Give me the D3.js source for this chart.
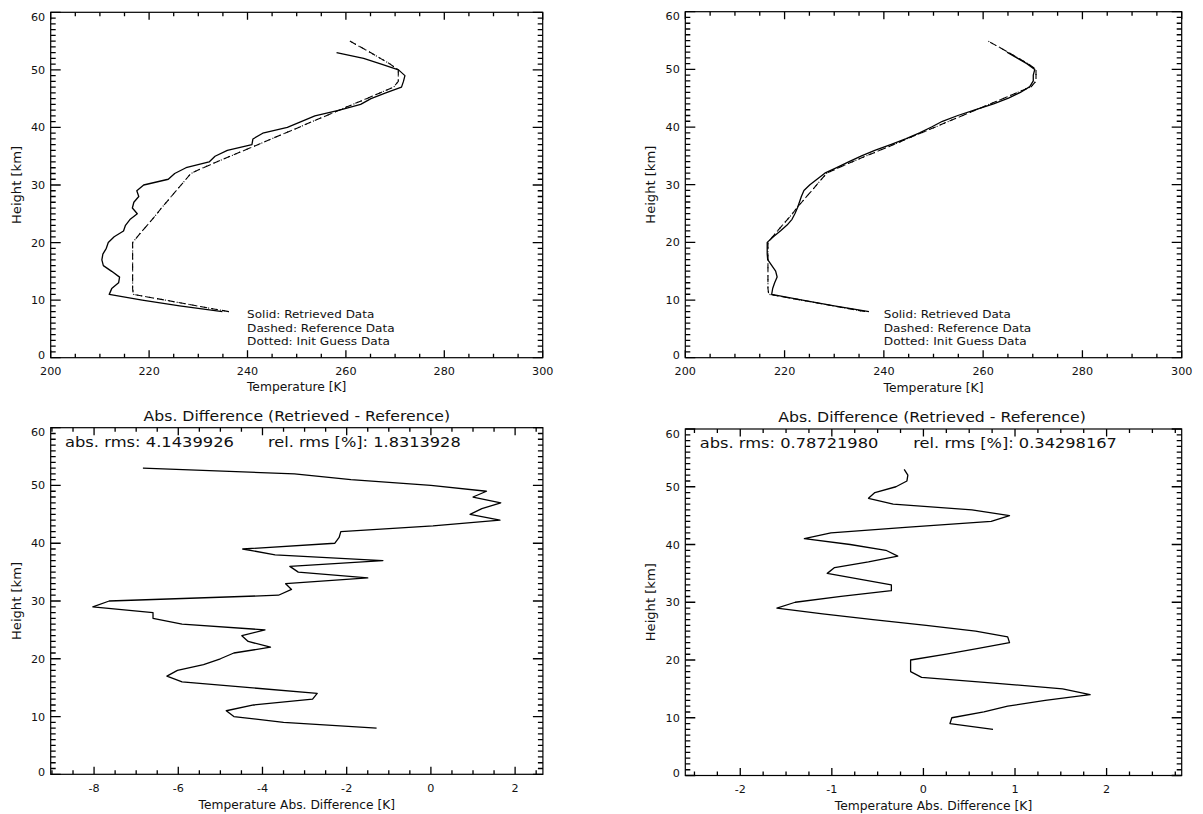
<!DOCTYPE html>
<html><head><meta charset="utf-8">
<script src="https://cdn.jsdelivr.net/npm/d3@7"></script>
<style>
body{margin:0;background:#fff}
svg{display:block}
text{font-family:"DejaVu Sans",sans-serif;fill:#111}
</style>
</head><body>
<svg id="c" width="1203" height="814"></svg>
<script>
// ---------------- DATA ----------------
const heightsRetrieved = [8,9,10,11,12,13,14,15,16,17,18,19,20,21,22,23,24,25,26,27,28,29,30,31,32,33,34,35,36,37,38,39,40,41,42,43,44,45,46,47,48,49,50,51,52,53];
const heightsReference = [8,9,10,11,12,13,14,15,16,17,18,19,20,21,22,23,24,25,26,27,28,29,30,31,32,33,34,35,36,37,38,39,40,41,42,43,44,45,46,47,48,49,50,51,52,53,54,55];

const referenceTempLeft = [236.2,229.7,223.3,216.8,216.65,216.65,216.65,216.65,216.65,216.65,216.65,216.65,216.65,217.6,218.6,219.6,220.6,221.6,222.5,223.5,224.5,225.5,226.5,227.5,228.5,231.0,233.7,236.5,239.3,242.1,244.8,247.6,250.4,253.1,255.9,258.6,261.4,264.2,266.9,269.7,270.65,270.65,270.65,269.0,267.0,265.0,262.9,260.8];
const initGuessTempLeft = [236.2,229.7,223.3,216.8,216.65,216.65,216.65,216.65,216.65,216.65,216.65,216.65,216.65,217.6,218.6,219.6,220.6,221.6,222.5,223.5,224.5,225.5,226.5,227.5,228.5,231.0,233.7,236.5,239.3,242.1,244.8,247.6,250.4,253.1,255.9,258.6,261.4,264.2,266.9,269.7,270.65,270.65,270.65,269.0,267.0,265.0,262.9,260.8];
const retrievedTempLeft = [234.9,226.2,218.6,211.9,212.4,213.8,214.0,212.4,210.7,210.4,210.6,211.3,211.7,212.9,214.8,215.2,216.1,217.6,216.6,216.9,217.9,217.5,218.9,223.9,225.2,227.5,232.2,233.4,235.9,240.9,241.1,243.1,248.1,250.9,253.7,258.7,263.0,265.1,268.1,271.3,271.7,272.0,270.7,267.2,263.6,258.1];
const absDiffLeft = [-1.29,-3.5,-4.68,-4.86,-4.21,-2.81,-2.70,-4.3,-5.91,-6.27,-6.02,-5.40,-5.0,-4.68,-3.81,-4.34,-4.49,-3.94,-5.91,-6.60,-6.60,-8.03,-7.64,-3.62,-3.31,-3.45,-1.50,-3.15,-3.35,-1.14,-3.70,-4.47,-2.28,-2.18,-2.14,0.05,1.64,0.93,1.21,1.66,1.0,1.32,0.0,-1.9,-3.24,-6.84];

const referenceTempRight = [236.2,229.7,223.3,216.8,216.65,216.65,216.65,216.65,216.65,216.65,216.65,216.65,216.65,217.6,218.6,219.6,220.6,221.6,222.5,223.5,224.5,225.5,226.5,227.5,228.5,231.0,233.7,236.5,239.3,242.1,244.8,247.6,250.4,253.1,255.9,258.6,261.4,264.2,266.9,269.7,270.65,270.65,270.65,269.0,267.0,265.0,262.9,260.8];
const initGuessTempRight = [236.2,229.7,223.3,216.8,216.65,216.65,216.65,216.65,216.65,216.65,216.65,216.65,216.65,217.6,218.6,219.6,220.6,221.6,222.5,223.5,224.5,225.5,226.5,227.5,228.5,231.0,233.7,236.5,239.3,242.1,244.8,247.6,250.4,253.1,255.9,258.6,261.4,264.2,266.9,269.7,270.65,270.65,270.65,269.0,267.0,265.0,262.9,260.8];
const retrievedTempRight = [237.0,230.0,223.6,217.4,217.6,218.0,218.5,218.2,217.4,216.6,216.5,216.5,216.5,217.8,219.2,220.5,221.5,222.1,222.6,223.0,223.4,223.9,225.1,226.6,228.1,230.6,233.0,235.5,238.3,241.5,244.5,247.2,249.6,251.8,254.9,258.5,262.1,265.1,267.5,269.4,270.1,270.1,270.4,268.8,266.8,264.8];
const absDiffRight = [0.76,0.29,0.31,0.66,0.92,1.33,1.82,1.52,0.77,-0.02,-0.14,-0.14,-0.14,0.25,0.6,0.94,0.92,0.57,0.03,-0.55,-1.1,-1.60,-1.40,-0.9,-0.35,-0.35,-0.7,-1.05,-0.97,-0.6,-0.28,-0.41,-0.8,-1.30,-1.01,-0.16,0.74,0.94,0.53,-0.33,-0.60,-0.53,-0.30,-0.18,-0.17,-0.21];

const heightRange = [0, 60];
const heightTicks = [0,10,20,30,40,50,60];
const tempRange = [200, 300];
const tempTicks = [200,220,240,260,280,300];
const diffRangeLeft = [-9.03, 2.66];
const diffTicksLeft = [-8,-6,-4,-2,0,2];
const diffRangeRight = [-2.60, 2.82];
const diffTicksRight = [-2,-1,0,1,2];

const legendLines = ["Solid: Retrieved Data","Dashed: Reference Data","Dotted: Init Guess Data"];
const diffTitle = "Abs. Difference (Retrieved - Reference)";
const rmsLeft = ["abs. rms: 4.1439926","rel. rms [%]: 1.8313928"];
const rmsRight = ["abs. rms: 0.78721980","rel. rms [%]: 0.34298167"];

// ---------------- DRAWING ----------------
const svg = d3.select("#c");

function minorValues(domain, step, majors){
  const out = [];
  const start = Math.ceil((domain[0]-1e-9)/step);
  const end = Math.floor((domain[1]+1e-9)/step);
  for (let i=start;i<=end;i++){
    const v = +(i*step).toFixed(6);
    if (!majors.some(m=>Math.abs(m-v)<1e-6)) out.push(v);
  }
  return out;
}

function drawPanel(o){
  const g = svg.append("g");
  const x = d3.scaleLinear().domain(o.xRange).range([o.left,o.right]);
  const y = d3.scaleLinear().domain(heightRange).range([o.bottom,o.top]);
  const xMin = minorValues(o.xRange, o.xMinor, o.xTicks);
  const yMin = minorValues(heightRange, 1, heightTicks);

  const xt = [...xMin.map(v=>({v,len:4})), ...o.xTicks.map(v=>({v,len:7.5}))];
  const yt = [...yMin.map(v=>({v,len:5})), ...heightTicks.map(v=>({v,len:10}))];
  const p = d3.path();
  xt.forEach(d=>{
    const xv = x(d.v);
    p.moveTo(xv,o.bottom); p.lineTo(xv,o.bottom-d.len);
    p.moveTo(xv,o.top); p.lineTo(xv,o.top+d.len);
  });
  yt.forEach(d=>{
    const yv = y(d.v);
    p.moveTo(o.left,yv); p.lineTo(o.left+d.len,yv);
    p.moveTo(o.right,yv); p.lineTo(o.right-d.len,yv);
  });
  g.append("path").attr("class","ticks").attr("d",p.toString()).attr("fill","none")
    .attr("stroke","#000").attr("stroke-width",1.3);

  g.selectAll(null).data(o.xTicks).join("text")
    .attr("x",d=>x(d)).attr("y",o.bottom+17.4).attr("text-anchor","middle")
    .attr("font-size",11.2).text(d=>String(d));
  g.selectAll(null).data(heightTicks).join("text")
    .attr("x",o.left-5.5).attr("y",d=>y(d) + (d===60?4.5:(d===0?-2.5:0)))
    .attr("dy","0.36em").attr("text-anchor","end")
    .attr("font-size",11.2).text(d=>String(d));

  g.append("rect").attr("x",o.left).attr("y",o.top)
    .attr("width",o.right-o.left).attr("height",o.bottom-o.top)
    .attr("fill","none").attr("stroke","#000").attr("stroke-width",1.2);

  const cx = (o.left+o.right)/2, cy = (o.top+o.bottom)/2;
  g.append("text").attr("x",cx).attr("y",o.xTitleY).attr("text-anchor","middle")
    .attr("font-size",11.5).attr("textLength",o.xTitleLen).attr("lengthAdjust","spacingAndGlyphs")
    .text(o.xTitle);
  g.append("text").attr("transform",`translate(${o.left-30},${cy}) rotate(-90)`)
    .attr("text-anchor","middle").attr("font-size",11.5)
    .attr("textLength",78).attr("lengthAdjust","spacingAndGlyphs")
    .text("Height [km]");

  const line = d3.line().x(d=>x(d[0])).y(d=>y(d[1]));
  o.series.forEach(s=>{
    g.append("path").datum(d3.zip(s.values, s.heights))
      .attr("d",line).attr("fill","none").attr("stroke","#000")
      .attr("stroke-width",s.width).attr("stroke-dasharray",s.dash||null)
      .attr("stroke-linejoin","round");
  });
}

drawPanel({left:50.7,right:542.7,top:12.3,bottom:357.7,xRange:tempRange,xTicks:tempTicks,xMinor:5,
  xTitle:"Temperature [K]",xTitleY:391,xTitleLen:99.5,
  series:[
    {values:initGuessTempLeft,heights:heightsReference,width:1.1,dash:"1,3"},
    {values:referenceTempLeft,heights:heightsReference,width:1.1,dash:"7,4"},
    {values:retrievedTempLeft,heights:heightsRetrieved,width:1.3}
  ]});
drawPanel({left:685.3,right:1181.7,top:11.7,bottom:357.7,xRange:tempRange,xTicks:tempTicks,xMinor:5,
  xTitle:"Temperature [K]",xTitleY:391.5,xTitleLen:100,
  series:[
    {values:initGuessTempRight,heights:heightsReference,width:1.1,dash:"1,3"},
    {values:referenceTempRight,heights:heightsReference,width:1.1,dash:"7,4"},
    {values:retrievedTempRight,heights:heightsRetrieved,width:1.3}
  ]});
drawPanel({left:50.7,right:542.9,top:427.7,bottom:774.3,xRange:diffRangeLeft,xTicks:diffTicksLeft,xMinor:0.5,
  xTitle:"Temperature Abs. Difference [K]",xTitleY:808.5,xTitleLen:196.5,
  series:[{values:absDiffLeft,heights:heightsRetrieved,width:1.3}]});
drawPanel({left:685.3,right:1181.7,top:429,bottom:775.5,xRange:diffRangeRight,xTicks:diffTicksRight,xMinor:0.25,
  xTitle:"Temperature Abs. Difference [K]",xTitleY:809.5,xTitleLen:197.5,
  series:[{values:absDiffRight,heights:heightsRetrieved,width:1.3}]});

function legend(x0, lens){
  legendLines.forEach((t,i)=>{
    svg.append("text").attr("x",x0).attr("y",318.3+i*13.35)
      .attr("font-size",11.3).attr("textLength",lens[i]).attr("lengthAdjust","spacingAndGlyphs").text(t);
  });
}
legend(247.1,[127.2,147.5,142.9]);
legend(883.8,[127,147.5,142.9]);

svg.append("text").attr("x",296.8).attr("y",420.7).attr("text-anchor","middle")
  .attr("font-size",13.5).attr("textLength",306.4).attr("lengthAdjust","spacingAndGlyphs").text(diffTitle);
svg.append("text").attr("x",932).attr("y",421.7).attr("text-anchor","middle")
  .attr("font-size",13.5).attr("textLength",307.6).attr("lengthAdjust","spacingAndGlyphs").text(diffTitle);

function rms(items, ys){
  items.forEach(it=>{
    svg.append("text").attr("x",it.x).attr("y",ys).attr("font-size",14.8)
      .attr("textLength",it.len).attr("lengthAdjust","spacingAndGlyphs").text(it.t);
  });
}
rms([{t:rmsLeft[0],x:65,len:169},{t:rmsLeft[1],x:267.9,len:192.8}],446.7);
rms([{t:rmsRight[0],x:699.8,len:178.6},{t:rmsRight[1],x:913.3,len:203.6}],447.5);
</script>
</body></html>
